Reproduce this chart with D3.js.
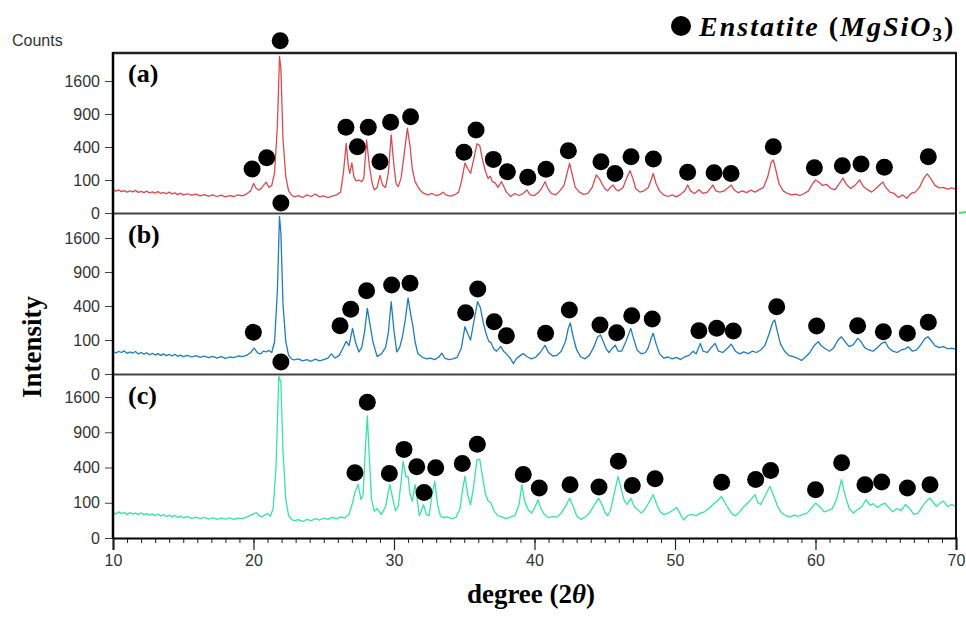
<!DOCTYPE html>
<html>
<head>
<meta charset="utf-8">
<script src="https://cdn.jsdelivr.net/npm/d3@7.9.0/dist/d3.min.js"></script>
<style>
  body { margin: 0; background: #fff; }
  svg { display: block; }
  .tick text { font-family: "Liberation Sans", Arial, sans-serif; fill: #333; }
</style>
</head>
<body>
<svg id="chart" width="966" height="617"></svg>
<script>
// tick labels
const xTicks = [10, 20, 30, 40, 50, 60, 70];
const yTicks = [0, 100, 400, 900, 1600];
const panelNames = ['(a)', '(b)', '(c)'];

// XRD traces, [2theta, counts]
const seriesA = [
  [10.0,50],[10.2,44],[10.4,49],[10.6,42],[10.8,46],[11.0,40],[11.2,45],[11.4,41],[11.6,47],[11.8,39],
  [12.0,43],[12.2,38],[12.4,44],[12.6,37],[12.8,41],[13.0,36],[13.2,42],[13.4,35],[13.6,39],[13.8,34],
  [14.0,40],[14.2,33],[14.4,37],[14.6,31],[14.8,36],[15.0,30],[15.3,34],[15.6,29],[15.9,33],[16.2,27],
  [16.5,31],[16.8,26],[17.1,30],[17.4,25],[17.7,29],[18.0,24],[18.3,28],[18.6,25],[18.9,30],[19.2,27],
  [19.5,33],[19.8,45],[20.0,80],[20.2,55],[20.4,48],[20.6,60],[20.9,88],[21.1,60],[21.3,70],[21.5,150],
  [21.7,700],[21.85,2250],[21.95,1900],[22.1,500],[22.3,120],[22.5,45],[22.7,30],[22.9,24],[23.2,28],[23.5,22],
  [23.8,30],[24.1,25],[24.4,33],[24.7,24],[25.0,27],[25.3,22],[25.6,26],[25.9,30],[26.2,40],[26.4,150],
  [26.6,445],[26.75,200],[26.85,145],[27.0,230],[27.15,120],[27.3,95],[27.5,100],[27.7,90],[27.85,110],[28.05,490],
  [28.25,200],[28.45,80],[28.6,49],[28.8,60],[29.0,130],[29.2,70],[29.4,60],[29.6,150],[29.8,560],[30.0,200],
  [30.15,80],[30.3,64],[30.5,110],[30.7,290],[30.95,660],[31.15,400],[31.3,180],[31.5,90],[31.7,64],[31.9,45],
  [32.1,36],[32.4,30],[32.7,35],[33.0,28],[33.3,32],[33.5,40],[33.7,30],[34.0,26],[34.3,30],[34.6,40],
  [34.8,90],[35.05,230],[35.25,180],[35.45,145],[35.65,250],[35.9,440],[36.1,420],[36.3,260],[36.5,160],[36.7,110],
  [36.85,125],[37.0,90],[37.2,83],[37.4,60],[37.65,90],[37.85,60],[38.0,40],[38.3,25],[38.6,35],[38.9,28],
  [39.2,35],[39.45,49],[39.7,30],[40.0,28],[40.3,40],[40.5,55],[40.75,90],[40.95,55],[41.2,35],[41.5,30],
  [41.8,45],[42.1,70],[42.35,160],[42.5,226],[42.7,130],[42.9,60],[43.2,40],[43.5,32],[43.8,35],[44.1,60],
  [44.4,133],[44.6,110],[44.8,80],[45.0,55],[45.2,45],[45.4,60],[45.6,72],[45.8,50],[46.0,45],[46.3,60],
  [46.6,120],[46.8,165],[47.0,110],[47.2,55],[47.5,40],[47.8,45],[48.1,60],[48.3,100],[48.45,143],[48.65,80],
  [48.9,45],[49.2,30],[49.5,25],[49.8,30],[50.1,24],[50.4,32],[50.7,45],[50.9,72],[51.1,45],[51.4,35],
  [51.7,50],[52.0,35],[52.3,40],[52.5,55],[52.7,72],[52.9,45],[53.2,40],[53.5,45],[53.8,60],[54.0,72],
  [54.2,50],[54.5,38],[54.8,45],[55.1,38],[55.4,48],[55.7,40],[56.0,50],[56.3,60],[56.6,120],[56.85,240],
  [57.0,258],[57.2,160],[57.4,80],[57.7,45],[58.0,35],[58.3,30],[58.6,33],[58.9,28],[59.2,35],[59.5,45],
  [59.8,80],[60.0,100],[60.2,90],[60.5,70],[60.8,75],[61.1,55],[61.4,50],[61.7,80],[61.95,112],[62.2,75],
  [62.5,55],[62.8,70],[63.15,100],[63.4,65],[63.7,50],[64.0,40],[64.3,55],[64.6,75],[64.8,88],[65.0,60],
  [65.3,40],[65.6,35],[65.9,22],[66.2,30],[66.5,20],[66.8,35],[67.1,40],[67.4,60],[67.7,110],[67.95,140],
  [68.2,110],[68.5,70],[68.8,58],[69.1,60],[69.4,52],[69.7,58],[70.0,52]
];

const seriesB = [
  [10.0,45],[10.2,38],[10.4,44],[10.6,40],[10.8,46],[11.0,37],[11.2,42],[11.4,38],[11.6,44],[11.8,35],
  [12.0,40],[12.2,34],[12.4,39],[12.6,32],[12.8,37],[13.0,31],[13.2,36],[13.4,30],[13.6,35],[13.8,29],
  [14.0,33],[14.2,28],[14.4,34],[14.6,27],[14.8,31],[15.0,26],[15.3,30],[15.6,25],[15.9,29],[16.2,24],
  [16.5,28],[16.8,23],[17.1,27],[17.4,22],[17.7,26],[18.0,21],[18.3,25],[18.6,23],[18.9,28],[19.2,26],
  [19.5,30],[19.8,40],[20.05,58],[20.3,38],[20.5,35],[20.7,45],[20.9,42],[21.1,48],[21.3,40],[21.5,90],
  [21.7,600],[21.85,2150],[21.95,1700],[22.1,420],[22.3,90],[22.5,30],[22.7,20],[22.9,17],[23.2,20],[23.5,15],
  [23.8,18],[24.1,14],[24.4,19],[24.7,15],[25.0,18],[25.3,22],[25.55,35],[25.8,22],[26.1,30],[26.3,50],
  [26.6,92],[26.8,70],[27.05,180],[27.25,90],[27.5,42],[27.7,60],[27.9,150],[28.1,373],[28.3,207],[28.5,90],
  [28.8,26],[29.1,35],[29.4,60],[29.6,150],[29.8,452],[30.0,160],[30.2,42],[30.4,60],[30.6,120],[30.8,250],
  [31.0,500],[31.2,300],[31.35,195],[31.5,90],[31.7,36],[32.0,25],[32.3,20],[32.6,22],[32.9,18],[33.2,25],
  [33.4,38],[33.6,22],[33.9,18],[34.2,20],[34.5,24],[34.8,60],[35.05,194],[35.3,130],[35.45,100],[35.7,250],
  [35.95,452],[36.15,380],[36.35,230],[36.55,140],[36.75,92],[36.9,85],[37.1,55],[37.3,45],[37.6,66],[37.8,45],
  [38.0,35],[38.3,20],[38.5,9],[38.7,20],[39.0,30],[39.2,36],[39.5,25],[39.8,20],[40.1,25],[40.4,40],
  [40.75,71],[41.0,40],[41.3,28],[41.6,30],[41.9,45],[42.2,90],[42.4,180],[42.55,225],[42.75,120],[43.0,50],
  [43.3,25],[43.6,20],[43.9,30],[44.2,60],[44.5,120],[44.7,131],[44.9,90],[45.1,55],[45.3,40],[45.5,55],
  [45.75,72],[45.95,45],[46.2,45],[46.5,90],[46.85,180],[47.05,110],[47.3,50],[47.6,35],[47.9,40],[48.1,60],
  [48.3,110],[48.45,143],[48.65,80],[48.9,35],[49.2,22],[49.5,25],[49.8,20],[50.1,24],[50.4,18],[50.7,26],
  [51.0,30],[51.3,45],[51.5,35],[51.8,81],[52.0,45],[52.3,40],[52.5,55],[52.85,81],[53.1,45],[53.4,40],
  [53.7,55],[54.0,77],[54.3,45],[54.6,35],[54.9,42],[55.2,36],[55.5,45],[55.8,40],[56.1,50],[56.4,70],
  [56.7,140],[56.95,230],[57.1,252],[57.3,150],[57.5,80],[57.8,45],[58.1,30],[58.4,26],[58.7,22],[59.0,16],
  [59.3,25],[59.6,40],[59.9,70],[60.2,90],[60.4,70],[60.7,55],[61.0,45],[61.3,60],[61.6,100],[61.85,120],
  [62.1,90],[62.4,65],[62.7,75],[63.0,110],[63.2,95],[63.5,60],[63.8,50],[64.1,45],[64.4,60],[64.7,80],
  [64.95,90],[65.2,60],[65.5,45],[65.8,40],[66.1,50],[66.4,55],[66.6,64],[66.9,45],[67.2,50],[67.5,75],
  [67.8,110],[68.0,120],[68.2,100],[68.5,70],[68.8,60],[69.1,65],[69.4,55],[69.7,58],[70.0,52]
];

const seriesC = [
  [10.0,52],[10.2,46],[10.4,55],[10.6,48],[10.8,53],[11.0,45],[11.2,52],[11.4,47],[11.6,50],[11.8,44],
  [12.0,51],[12.2,43],[12.4,48],[12.6,42],[12.8,47],[13.0,40],[13.2,46],[13.4,39],[13.6,44],[13.8,37],
  [14.0,42],[14.2,36],[14.4,41],[14.6,34],[14.8,39],[15.0,33],[15.3,37],[15.6,31],[15.9,35],[16.2,30],
  [16.5,34],[16.8,29],[17.1,33],[17.4,28],[17.7,32],[18.0,29],[18.3,33],[18.6,28],[18.9,32],[19.2,30],
  [19.5,35],[19.8,42],[20.2,52],[20.4,40],[20.6,36],[20.8,42],[21.0,49],[21.2,38],[21.4,70],[21.6,400],
  [21.8,2100],[21.95,1950],[22.1,600],[22.3,120],[22.5,40],[22.7,28],[22.9,24],[23.2,27],[23.5,22],[23.8,28],
  [24.1,24],[24.4,30],[24.7,26],[25.0,32],[25.3,28],[25.6,34],[25.9,30],[26.2,36],[26.5,32],[26.8,45],
  [27.05,100],[27.25,180],[27.45,229],[27.65,120],[27.8,150],[27.95,600],[28.1,1200],[28.25,500],[28.4,120],[28.6,56],
  [28.8,70],[29.1,45],[29.4,80],[29.7,229],[29.9,130],[30.1,60],[30.3,80],[30.5,250],[30.65,475],[30.85,300],
  [31.0,306],[31.15,150],[31.3,110],[31.5,229],[31.65,120],[31.8,40],[31.95,60],[32.1,89],[32.3,45],[32.5,40],
  [32.7,150],[32.9,259],[33.1,90],[33.3,40],[33.5,33],[33.8,36],[34.1,30],[34.4,34],[34.7,70],[34.9,200],
  [35.05,306],[35.25,150],[35.45,89],[35.65,200],[35.9,490],[36.1,500],[36.3,300],[36.5,160],[36.7,110],[36.9,100],
  [37.1,60],[37.4,40],[37.7,36],[38.0,30],[38.3,36],[38.6,40],[38.9,90],[39.1,229],[39.3,110],[39.55,64],
  [39.8,50],[40.05,80],[40.25,118],[40.45,70],[40.7,45],[41.0,33],[41.3,38],[41.6,35],[41.9,50],[42.2,80],
  [42.5,128],[42.75,80],[43.0,40],[43.3,28],[43.6,35],[43.9,50],[44.2,80],[44.55,128],[44.8,90],[45.0,55],
  [45.2,40],[45.4,60],[45.65,150],[45.95,306],[46.15,200],[46.4,110],[46.6,90],[46.85,128],[47.1,80],[47.35,64],
  [47.6,50],[47.9,70],[48.2,110],[48.45,151],[48.7,90],[48.95,55],[49.2,45],[49.5,50],[49.8,60],[50.1,75],
  [50.3,55],[50.6,26],[50.9,40],[51.2,45],[51.5,40],[51.8,50],[52.1,55],[52.4,70],[52.7,90],[53.0,110],
  [53.3,139],[53.55,100],[53.8,70],[54.1,45],[54.3,40],[54.6,55],[54.9,80],[55.2,100],[55.5,130],[55.7,151],
  [55.9,100],[56.1,90],[56.4,140],[56.75,215],[57.0,150],[57.3,80],[57.6,50],[57.9,40],[58.2,36],[58.5,42],
  [58.8,38],[59.1,45],[59.4,50],[59.7,70],[60.0,98],[60.3,80],[60.6,55],[60.9,60],[61.2,70],[61.5,120],
  [61.85,275],[62.1,150],[62.4,70],[62.7,50],[63.0,65],[63.3,80],[63.6,118],[63.9,85],[64.1,95],[64.4,75],
  [64.7,90],[64.95,98],[65.2,75],[65.5,55],[65.8,70],[66.1,60],[66.4,90],[66.7,70],[67.0,45],[67.3,50],
  [67.6,80],[67.9,110],[68.15,128],[68.4,100],[68.6,80],[68.9,100],[69.1,110],[69.4,80],[69.7,90],[70.0,80]
];

// Enstatite markers, [2theta, counts at marker centre]
const markersA = [
  [19.9,178],[20.94,281],[21.9,2725],[26.58,674],[27.39,404],[28.17,674],[29.0,242],[29.76,755],[31.18,851],
  [34.98,338],[35.84,633],[37.07,264],[38.07,157],[39.52,117],[40.82,175],[42.41,357],[44.73,242],[45.73,144],
  [46.87,291],[48.46,268],[50.9,152],[52.78,149],[53.99,144],[57.0,404],[59.92,188],[61.91,206],[63.24,220],
  [64.9,192],[68.03,291]
];
const markersB = [
  [19.99,150],[21.95,2530],[26.16,202],[26.92,362],[28.05,600],[29.83,685],[31.14,711],[35.1,325],[35.96,625],
  [37.13,237],[38.0,127],[40.79,143],[42.48,354],[44.66,208],[45.85,148],[46.92,294],[48.38,262],[51.7,162],
  [52.97,181],[54.15,160],[57.24,392],[60.08,199],[63.0,202],[64.83,155],[66.54,143],[68.03,231]
];
const markersC = [
  [21.95,2490],[27.22,342],[28.1,1481],[29.67,334],[30.71,632],[31.62,408],[32.14,167],[32.97,396],[34.86,447],
  [35.93,706],[39.2,324],[40.34,202],[42.53,229],[44.59,210],[45.97,475],[46.96,221],[48.58,282],[53.32,250],
  [55.74,275],[56.81,366],[60.0,188],[61.86,455],[63.52,229],[64.71,253],[66.54,202],[68.15,229]
];

const svg = d3.select('#chart');
const left = 113, right = 956;
const serif = '"Liberation Serif", "Times New Roman", serif';

const panels = [
  { top: 53, zero: 213, y1600: 81, data: seriesA, marks: markersA, color: '#dc4a4f' },
  { top: 214, zero: 374, y1600: 238, data: seriesB, marks: markersB, color: '#1d7dc3' },
  { top: 375, zero: 538, y1600: 397, data: seriesC, marks: markersC, color: '#35e3ab' }
];

const x = d3.scaleLinear().domain([10, 70]).range([left, right]);

panels.forEach((p, i) => {
  const y = d3.scaleSqrt().domain([0, 1600]).range([p.zero, p.y1600]);

  svg.append('clipPath').attr('id', 'clip' + i)
    .append('rect')
    .attr('x', left).attr('y', p.top)
    .attr('width', right - left).attr('height', p.zero - p.top);

  let line = d3.line().x((d) => x(d[0])).y((d) => y(d[1]));
  svg.append('path')
    .datum(p.data)
    .attr('clip-path', `url(#clip${i})`)
    .attr('fill', 'none')
    .attr('stroke', p.color)
    .attr('stroke-width', 1.3)
    .attr('stroke-linejoin', 'round')
    .attr('d', line);

  let yAxis = svg.append('g')
    .attr('transform', `translate(${left},0)`)
    .call(d3.axisLeft(y).tickValues(yTicks).tickFormat(d3.format('d')).tickSize(8).tickPadding(5));
  yAxis.select('.domain').remove();
  yAxis.selectAll('.tick line').attr('stroke', '#444');
  yAxis.selectAll('.tick text').attr('font-size', 16);

  svg.append('text')
    .attr('x', 128).attr('y', p.top + 29)
    .attr('font-family', serif).attr('font-weight', 'bold').attr('font-size', 26)
    .text(panelNames[i]);

  svg.append('g').selectAll('circle')
    .data(p.marks)
    .join('circle')
    .attr('cx', (d) => x(d[0]))
    .attr('cy', (d) => y(d[1]))
    .attr('r', 8.5)
    .attr('fill', '#000');
});

// frame
svg.append('line').attr('x1', left).attr('x2', right).attr('y1', 53).attr('y2', 53)
  .attr('stroke', '#222').attr('stroke-width', 2.5);
[213.5, 374.5].forEach((yy) => {
  svg.append('line').attr('x1', left).attr('x2', right).attr('y1', yy).attr('y2', yy)
    .attr('stroke', '#444').attr('stroke-width', 2);
});
svg.append('line').attr('x1', right).attr('x2', right).attr('y1', 52).attr('y2', 539)
  .attr('stroke', '#111').attr('stroke-width', 2);
svg.append('line').attr('x1', left).attr('x2', left).attr('y1', 52).attr('y2', 539)
  .attr('stroke', '#000').attr('stroke-width', 2.5);

// x axis with minor ticks
let minor = svg.append('g').attr('transform', 'translate(0,538)')
  .call(d3.axisBottom(x).ticks(60).tickSize(5).tickFormat(''));
minor.select('.domain').remove();
minor.selectAll('.tick line').attr('stroke', '#222');

let xAxis = svg.append('g').attr('transform', 'translate(0,538)')
  .call(d3.axisBottom(x).tickValues(xTicks).tickSize(12).tickPadding(5));
xAxis.select('.domain').attr('stroke', '#000').attr('stroke-width', 2);
xAxis.selectAll('.tick line').attr('stroke', '#222').attr('stroke-width', 1.2);
xAxis.selectAll('.tick text').attr('font-size', 16);

// small green mark at the right edge
svg.append('line').attr('x1', 959).attr('x2', 966).attr('y1', 213).attr('y2', 212)
  .attr('stroke', '#5ad07a').attr('stroke-width', 2);

// titles
svg.append('text').attr('x', 12).attr('y', 46)
  .attr('font-family', '"Liberation Sans", Arial, sans-serif').attr('font-size', 16).attr('fill', '#333')
  .text('Counts');

svg.append('text')
  .attr('transform', 'translate(41,347) rotate(-90)')
  .attr('text-anchor', 'middle')
  .attr('font-family', serif).attr('font-weight', 'bold').attr('font-size', 27)
  .text('Intensity');

let xt = svg.append('text')
  .attr('x', 531).attr('y', 603)
  .attr('text-anchor', 'middle')
  .attr('font-family', serif).attr('font-weight', 'bold').attr('font-size', 27);
xt.append('tspan').text('degree (2');
xt.append('tspan').attr('font-style', 'italic').text('θ');
xt.append('tspan').text(')');

// legend
svg.append('circle').attr('cx', 681).attr('cy', 26).attr('r', 10).attr('fill', '#000');
let lg = svg.append('text')
  .attr('x', 699).attr('y', 36)
  .attr('font-family', serif).attr('font-weight', 'bold').attr('font-size', 28)
  .attr('letter-spacing', 2);
lg.append('tspan').attr('font-style', 'italic').text('Enstatite ');
lg.append('tspan').text('(');
lg.append('tspan').attr('font-style', 'italic').text('MgSiO');
lg.append('tspan').attr('font-size', 19).attr('dy', 5).text('3');
lg.append('tspan').attr('dy', -5).text(')');
</script>
</body>
</html>
